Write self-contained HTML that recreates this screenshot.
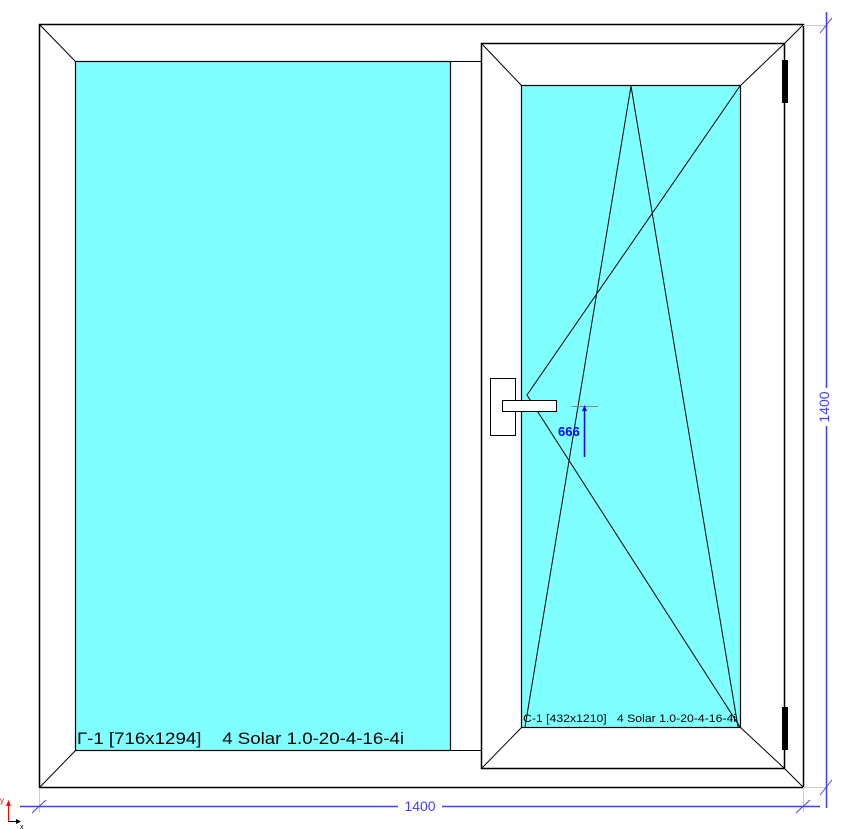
<!DOCTYPE html>
<html><head><style>body{margin:0;background:#fff;}svg{display:block}</style></head><body>
<svg width="868" height="829" viewBox="0 0 868 829" xmlns="http://www.w3.org/2000/svg" font-family="Liberation Sans, DejaVu Sans, sans-serif">
<rect width="868" height="829" fill="#fff"/>
<rect x="39.5" y="24.5" width="764" height="763" fill="#fff" stroke="#000" stroke-width="1.5"/>
<rect x="75.5" y="61.5" width="375" height="689" fill="#80ffff" stroke="#000" stroke-width="1.2"/>
<line x1="450" y1="61.5" x2="482" y2="61.5" stroke="#000"/>
<line x1="450" y1="750.5" x2="482" y2="750.5" stroke="#000"/>
<line x1="39.5" y1="24.5" x2="75.5" y2="61.5" stroke="#000"/>
<line x1="39.5" y1="787.5" x2="75.5" y2="750.5" stroke="#000"/>
<line x1="803.5" y1="24.5" x2="784" y2="44" stroke="#000"/>
<line x1="803.5" y1="787.5" x2="784" y2="768" stroke="#000"/>
<text x="77" y="744" font-size="17" fill="#000" textLength="327" lengthAdjust="spacingAndGlyphs">Г-1 [716x1294]&#160;&#160;&#160; 4 Solar 1.0-20-4-16-4i</text>
<rect x="481.5" y="43.5" width="303" height="725" fill="#fff" stroke="#000" stroke-width="1.5"/>
<rect x="521.5" y="85.5" width="219" height="642" fill="#80ffff" stroke="#000" stroke-width="1.2"/>
<line x1="481.5" y1="43.5" x2="521.5" y2="85.5" stroke="#000"/>
<line x1="784.5" y1="43.5" x2="740.5" y2="85.5" stroke="#000"/>
<line x1="481.5" y1="768.5" x2="521.5" y2="727.5" stroke="#000"/>
<line x1="784.5" y1="768.5" x2="740.5" y2="727.5" stroke="#000"/>
<polyline points="525,727 631,86 738,727" fill="none" stroke="#000"/>
<polyline points="740,86 527,395 740,727" fill="none" stroke="#000"/>
<text x="523" y="722" font-size="11" fill="#000" textLength="213" lengthAdjust="spacingAndGlyphs">C-1 [432x1210]&#160;&#160; 4 Solar 1.0-20-4-16-4i</text>
<rect x="782" y="60" width="6" height="43" fill="#000"/>
<rect x="782" y="707" width="6" height="43" fill="#000"/>
<rect x="490.5" y="378.5" width="25" height="57" fill="#fff" stroke="#000"/>
<rect x="502.5" y="400.5" width="54" height="11" fill="#fff" stroke="#000"/>
<line x1="571" y1="406.5" x2="598" y2="406.5" stroke="#888"/>
<line x1="584.5" y1="408" x2="584.5" y2="457" stroke="#00f" stroke-width="1.5"/>
<polygon points="584.5,405 582,411 587,411" fill="#00f"/>
<text x="558" y="436" font-size="13" fill="#00f" font-weight="bold">666</text>
<line x1="803" y1="25.5" x2="828" y2="25.5" stroke="#ccc"/>
<line x1="803" y1="787.5" x2="828" y2="787.5" stroke="#ccc"/>
<line x1="39.5" y1="788" x2="39.5" y2="812" stroke="#ccc"/>
<line x1="803.5" y1="788" x2="803.5" y2="812" stroke="#ccc"/>
<line x1="826.5" y1="12" x2="826.5" y2="388" stroke="#4040ff" stroke-width="1.5"/>
<line x1="826.5" y1="426" x2="826.5" y2="808" stroke="#4040ff" stroke-width="1.5"/>
<line x1="820" y1="33" x2="832" y2="18" stroke="#4040ff"/>
<line x1="820" y1="795" x2="832" y2="780" stroke="#4040ff"/>
<text transform="translate(829,407) rotate(-90)" text-anchor="middle" font-size="14" fill="#4040ff">1400</text>
<line x1="20" y1="806.5" x2="398" y2="806.5" stroke="#4040ff" stroke-width="1.5"/>
<line x1="442" y1="806.5" x2="820" y2="806.5" stroke="#4040ff" stroke-width="1.5"/>
<line x1="32" y1="813" x2="46" y2="800" stroke="#4040ff"/>
<line x1="796" y1="813" x2="810" y2="800" stroke="#4040ff"/>
<text x="420" y="811" text-anchor="middle" font-size="14" fill="#4040ff">1400</text>
<line x1="8.5" y1="822" x2="8.5" y2="803" stroke="#f00"/>
<polygon points="8.5,800 6,806 11,806" fill="#f00"/>
<text x="0" y="803" font-size="8" fill="#f00">y</text>
<line x1="8" y1="821.5" x2="20" y2="821.5" stroke="#000"/>
<polygon points="21,821.5 16,819 16,824" fill="#000"/>
<text x="20" y="829" font-size="7" fill="#000">x</text>
</svg>
</body></html>
